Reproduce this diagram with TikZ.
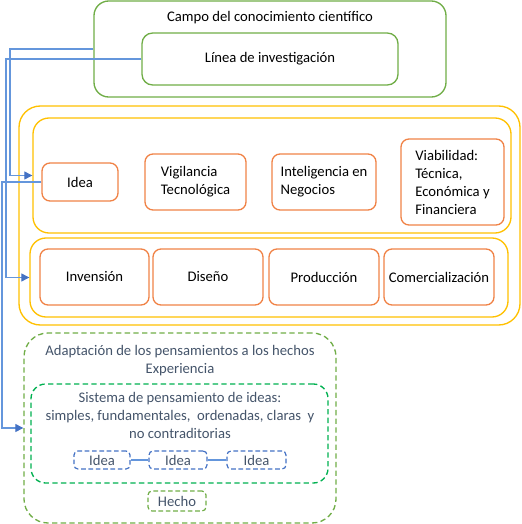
\documentclass[tikz,border=0pt]{standalone}
\usepackage{fontspec}
\setmainfont{Carlito}
\usetikzlibrary{arrows.meta}
\definecolor{cgreen}{RGB}{112,173,71}
\definecolor{cgreendk}{RGB}{0,176,80}
\definecolor{cyellow}{RGB}{255,192,0}
\definecolor{corange}{RGB}{240,130,70}
\definecolor{cblue}{RGB}{68,114,196}
\definecolor{cline}{RGB}{100,150,220}
\definecolor{cgraytxt}{RGB}{68,84,106}
\begin{document}
\begin{tikzpicture}[x=0.75pt,y=-0.75pt,
  every node/.style={font=\fontsize{11}{13.5}\selectfont, inner sep=0pt},
  sz/.style 2 args={minimum width=#1*0.75pt, minimum height=#2*0.75pt},
  gbox/.style={draw=cgreen, line width=1pt, rounded corners=11pt},
  ybox/.style={draw=cyellow, line width=1pt, rounded corners=12pt},
  obox/.style={draw=corange, line width=1pt, rounded corners=6pt, align=left},
  gdash/.style={draw=cgreen, line width=1pt, rounded corners=18pt, dash pattern=on 4pt off 2.5pt},
  gdashin/.style={draw=cgreendk, line width=1pt, rounded corners=11pt, dash pattern=on 4pt off 2.5pt},
  bdash/.style={draw=cblue, line width=0.9pt, rounded corners=3pt, dash pattern=on 3.5pt off 2pt, text=cgraytxt},
  hdash/.style={draw=cgreen, line width=0.9pt, rounded corners=3pt, dash pattern=on 3.5pt off 2pt, text=cgraytxt},
  conn/.style={draw=cline, line width=0.8pt, -{Triangle[length=6pt,width=6pt,color=cblue]}},
  link/.style={draw=cline, line width=0.8pt},
  gtxt/.style={text=cgraytxt, align=center}
]
\useasboundingbox (0,0) rectangle (521,524);
% top green
\node[gbox, sz={352}{96}] (campo) at (270,49) {};
\node (campotxt) at (270,18) {Campo del conocimiento científico};
\node[gbox, rounded corners=8pt, sz={256}{52}] (linea) at (270,59) {Línea de investigación};
% yellow
\node[ybox, rounded corners=16pt, sz={501}{219}] (yout) at (269.5,215.5) {};
\node[ybox, sz={478}{115}] (ytop) at (272,175.5) {};
\node[ybox, sz={478}{79}] (ybot) at (269,277.5) {};
% orange top row
\node[obox, sz={76}{38}] (idea) at (80,182) {Idea};
\node[obox, sz={101}{56}] (vig) at (195.5,182) {Vigilancia\\Tecnológica};
\node[obox, sz={104}{56}] (intel) at (324,182) {Inteligencia en\\Negocios};
\node[obox, sz={103}{86}] (viab) at (452.5,182) {Viabilidad:\\Técnica,\\Económica y\\Financiera};
% orange bottom row
\node[obox, sz={109}{56}] (inv) at (94.5,277) {Invensión};
\node[obox, sz={110}{56}] (dis) at (208,277) {Diseño};
\node[obox, sz={110}{56}] (prod) at (324,277) {Producción};
\node[obox, sz={110}{56}] (com) at (439,277) {Comercialización};
% bottom dashed
\node[gdash, sz={312}{190}] (gout) at (180,428) {};
\node[gtxt] (adtxt) at (180,360.5) {Adaptación de los pensamientos a los hechos\\Experiencia};
\node[gdashin, sz={297}{99}] (gin) at (179.5,433.5) {};
\node[gtxt] (sistxt) at (180,415.5) {Sistema de pensamiento de ideas:\\simples, fundamentales,\ \ ordenadas, claras\ \ y\\no contraditorias};
\node[bdash, sz={56}{18}] (i1) at (102,460) {Idea};
\node[bdash, sz={58}{18}] (i2) at (178,460) {Idea};
\node[bdash, sz={59}{18}] (i3) at (256.5,460) {Idea};
\node[hdash, sz={58}{20}] (hecho) at (177,501) {Hecho};
\draw[link] (i1) -- (i2);
\draw[link] (i2) -- (i3);
% connectors
\draw[conn] (campo.west) -- (10,49) |- (ytop.west);
\draw[conn] (linea.west) -- (6,59) |- (ybot.west);
\draw[conn] (idea.west) -- (2,182) |- (gout.west);
\end{tikzpicture}
\end{document}
